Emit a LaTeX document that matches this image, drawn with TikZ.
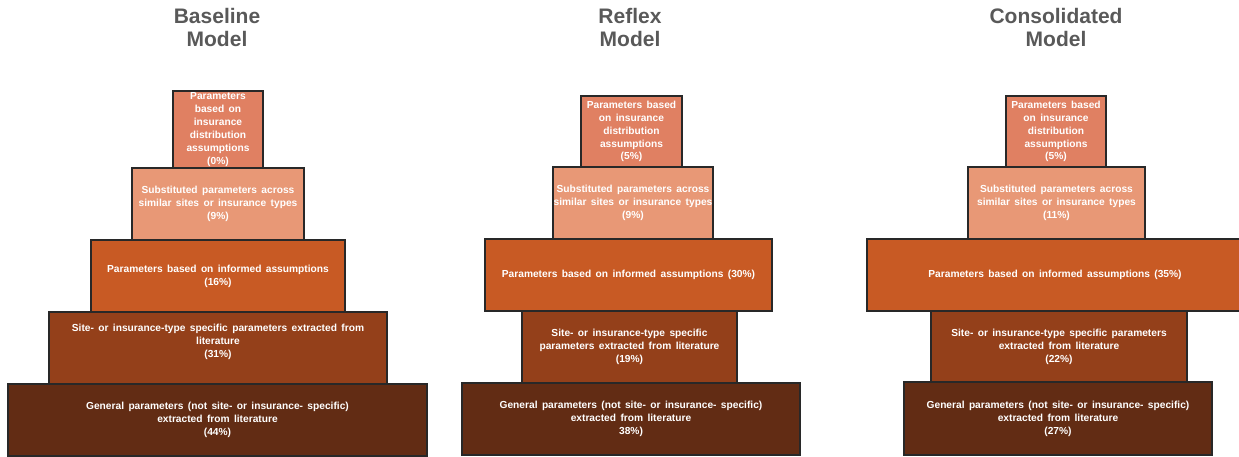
\documentclass[tikz,border=0pt]{standalone}
\usepackage{fontspec}
\setmainfont{Liberation Sans}[WordSpace=1.55]
\definecolor{cA}{RGB}{224,128,98}
\definecolor{cB}{RGB}{232,152,118}
\definecolor{cC}{RGB}{200,90,36}
\definecolor{cD}{RGB}{148,64,26}
\definecolor{cE}{RGB}{98,44,20}
\definecolor{ttl}{RGB}{89,89,89}
\definecolor{edge}{RGB}{40,40,40}
\tikzset{
  boxtext/.style={text=white, align=center, inner sep=0pt, font=\bfseries\fontsize{10.2}{12.9}\selectfont},
  box/.style={boxtext, draw=edge, line width=1.5pt},
  ttlnode/.style={text=ttl, align=center, inner sep=0pt, font=\bfseries\fontsize{21}{23}\selectfont},
}
\begin{document}
\begin{tikzpicture}[x=1pt,y=-1pt]
\useasboundingbox (0,0) rectangle (1239,456);
% titles
\node[ttlnode] (t1) at (217,27.7) {Baseline\\Model};
\node[ttlnode] (t2) at (630,27.7) {Reflex\\Model};
\node[ttlnode] (t3) at (1056,27.7) {Consolidated\\Model};
% Baseline
\node[box, fill=cA, minimum width=90, minimum height=77] (b1) at (218,129.5) {Parameters\\based on\\insurance\\distribution\\assumptions\\(0\%)};
\node[box, fill=cB, minimum width=172, minimum height=72] (b2) at (218,204) {Substituted  parameters across\\similar sites or insurance types\\(9\%)};
\node[box, fill=cC, minimum width=254, minimum height=72] (b3) at (218,276) {Parameters based on informed assumptions\\(16\%)};
\node[box, fill=cD, minimum width=338, minimum height=72,
  label={[boxtext, yshift=6pt]center:{Site- or insurance-type  specific parameters extracted from\\literature\\(31\%)}}] (b4) at (218,348) {};
\node[box, fill=cE, minimum width=419, minimum height=72] (b5) at (217.5,420) {General parameters (not site- or insurance- specific)\\extracted from literature\\(44\%)};
% Reflex
\node[box, fill=cA, minimum width=101, minimum height=71] (r1) at (631.5,131.5) {Parameters based\\on insurance\\distribution\\assumptions\\(5\%)};
\node[box, fill=cB, minimum width=160, minimum height=72] (r2) at (633,203) {Substituted  parameters across\\similar sites or insurance types\\(9\%)};
\node[box, fill=cC, minimum width=287, minimum height=72] (r3) at (628.5,275) {Parameters based on informed assumptions  (30\%)};
\node[box, fill=cD, minimum width=215, minimum height=72] (r4) at (629.5,347) {Site- or insurance-type  specific\\parameters extracted from literature\\(19\%)};
\node[box, fill=cE, minimum width=338, minimum height=72] (r5) at (631,419) {General parameters (not site- or insurance- specific)\\extracted from literature\\38\%)};
% Consolidated
\node[box, fill=cA, minimum width=100, minimum height=71] (c1) at (1056,131.5) {Parameters based\\on insurance\\distribution\\assumptions\\(5\%)};
\node[box, fill=cB, minimum width=177, minimum height=72] (c2) at (1056.5,203) {Substituted  parameters across\\similar sites or insurance types\\(11\%)};
\node[box, fill=cC, minimum width=376, minimum height=72] (c3) at (1055,275) {Parameters based on informed assumptions  (35\%)};
\node[box, fill=cD, minimum width=256, minimum height=71] (c4) at (1059,346.5) {Site- or insurance-type  specific parameters\\extracted from literature\\(22\%)};
\node[box, fill=cE, minimum width=308, minimum height=73] (c5) at (1058,418.5) {General parameters (not site- or insurance- specific)\\extracted from literature\\(27\%)};
\end{tikzpicture}
\end{document}
